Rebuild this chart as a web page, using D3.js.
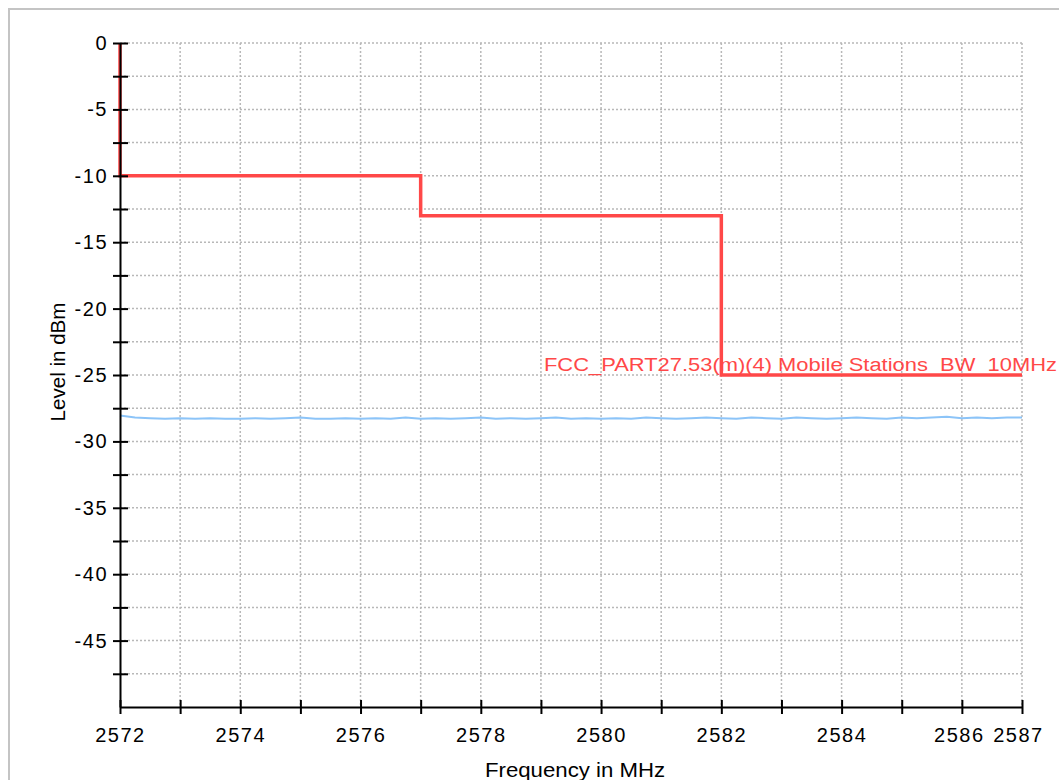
<!DOCTYPE html>
<html lang="en">
  <head>
    <meta charset="UTF-8" />
    <title>Spectrum plot</title>
    <style>
      body {
        margin: 0;
        background: #fff;
        font-family: "Liberation Sans", Arial, sans-serif;
      }
      .frame {
        fill: none;
        stroke: #c4c4c4;
        stroke-width: 2px;
      }
      .grid line {
        stroke: #b8b8b8;
        stroke-width: 1.5px;
        stroke-dasharray: 2 2;
      }
      .axis path,
      .axis line {
        stroke: #000;
        stroke-width: 2px;
      }
      .axis text {
        font-size: 20px;
        fill: #000;
        font-family: "Liberation Sans", Arial, sans-serif;
      }
      .title {
        font-size: 20px;
        fill: #000;
      }
    </style>
  </head>
  <body>
    <div id="chart"></div>
    <script src="https://d3js.org/d3.v7.min.js"></script>
    <script>
      // limit line (step corners)
      const limitFreq = [2572, 2572, 2577, 2577, 2582, 2582, 2587];
      const limitLevel = [0, -10, -10, -13, -13, -25, -25];
      const limitName = "FCC_PART27.53(m)(4) Mobile Stations_BW_10MHz";

      // measured trace, every 0.25 MHz
      const traceFreq = [
        2572, 2572.25, 2572.5, 2572.75, 2573, 2573.25, 2573.5, 2573.75,
        2574, 2574.25, 2574.5, 2574.75, 2575, 2575.25, 2575.5, 2575.75,
        2576, 2576.25, 2576.5, 2576.75, 2577, 2577.25, 2577.5, 2577.75,
        2578, 2578.25, 2578.5, 2578.75, 2579, 2579.25, 2579.5, 2579.75,
        2580, 2580.25, 2580.5, 2580.75, 2581, 2581.25, 2581.5, 2581.75,
        2582, 2582.25, 2582.5, 2582.75, 2583, 2583.25, 2583.5, 2583.75,
        2584, 2584.25, 2584.5, 2584.75, 2585, 2585.25, 2585.5, 2585.75,
        2586, 2586.25, 2586.5, 2586.75, 2587
      ];
      const traceLevel = [
        -28.05, -28.2, -28.25, -28.3, -28.25, -28.3, -28.25, -28.3,
        -28.3, -28.25, -28.3, -28.25, -28.2, -28.3, -28.3, -28.25,
        -28.3, -28.25, -28.3, -28.2, -28.3, -28.25, -28.3, -28.25,
        -28.2, -28.3, -28.25, -28.3, -28.25, -28.2, -28.3, -28.25,
        -28.3, -28.25, -28.3, -28.2, -28.25, -28.3, -28.25, -28.2,
        -28.25, -28.3, -28.2, -28.25, -28.3, -28.2, -28.25, -28.3,
        -28.25, -28.2, -28.25, -28.3, -28.2, -28.25, -28.2, -28.15,
        -28.25, -28.2, -28.25, -28.2, -28.2
      ];

      const xTickLabels = [2572, 2574, 2576, 2578, 2580, 2582, 2584, 2586, 2587];
      const yTickLabels = [0, -5, -10, -15, -20, -25, -30, -35, -40, -45];

      const W = 1059, H = 780;
      const margin = { top: 43, right: 37, bottom: 73, left: 120 };
      const width = W - margin.left - margin.right,
        height = H - margin.top - margin.bottom;

      const svg = d3
        .select("#chart")
        .append("svg")
        .attr("width", W)
        .attr("height", H);

      // outer frame
      svg
        .append("rect")
        .attr("class", "frame")
        .attr("x", 9)
        .attr("y", 9)
        .attr("width", W + 10)
        .attr("height", H + 10);

      const g = svg
        .append("g")
        .attr("transform", "translate(" + margin.left + "," + margin.top + ")");

      const x = d3.scaleLinear().domain([2572, 2587]).range([0, width]);
      const y = d3.scaleLinear().domain([-50, 0]).range([height, 0]);

      const xMinor = d3.range(2572, 2588, 1);
      const yMinor = d3.range(0, -50, -2.5);

      // grid
      g.append("g")
        .attr("class", "grid")
        .selectAll("line")
        .data(xMinor.slice(1))
        .join("line")
        .attr("x1", (d) => x(d))
        .attr("x2", (d) => x(d))
        .attr("y1", 0)
        .attr("y2", height);

      g.append("g")
        .attr("class", "grid")
        .selectAll("line")
        .data(yMinor)
        .join("line")
        .attr("x1", 0)
        .attr("x2", width)
        .attr("y1", (d) => y(d))
        .attr("y2", (d) => y(d));

      // measured trace
      const trace = traceFreq.map((f, i) => [f, traceLevel[i]]);
      g.append("path")
        .datum(trace)
        .attr("fill", "none")
        .attr("stroke", "#8cc4f8")
        .attr("stroke-width", 2)
        .attr("d", d3.line().x((d) => x(d[0])).y((d) => y(d[1])));

      // limit line
      const limit = limitFreq.map((f, i) => [f, limitLevel[i]]);
      g.append("path")
        .datum(limit)
        .attr("fill", "none")
        .attr("stroke", "#ff4848")
        .attr("stroke-width", 3.5)
        .attr("d", d3.line().x((d) => x(d[0])).y((d) => y(d[1])));

      g.append("text")
        .attr("x", x(2579.05))
        .attr("y", y(-25) - 4)
        .attr("fill", "#ff4848")
        .attr("font-size", 18)
        .attr("textLength", 513)
        .attr("lengthAdjust", "spacingAndGlyphs")
        .text(limitName);

      // axes
      const xAxis = d3
        .axisBottom(x)
        .tickValues(xMinor)
        .tickFormat((d) => (xTickLabels.includes(d) ? d : ""))
        .tickSize(7)
        .tickSizeOuter(0)
        .tickPadding(14);
      const gx = g
        .append("g")
        .attr("class", "axis")
        .attr("transform", "translate(0," + height + ")")
        .call(xAxis);
      gx.selectAll(".tick line").attr("y1", -7);
      gx.selectAll(".tick text")
        .attr("letter-spacing", 1.5)
        .attr("dx", (d) => (d === 2587 ? -4 : d === 2586 ? -3 : 0));

      const yAxis = d3
        .axisLeft(y)
        .tickValues(yMinor)
        .tickFormat((d) => (yTickLabels.includes(d) ? d : ""))
        .tickSize(7)
        .tickSizeOuter(0)
        .tickPadding(5);
      const gy = g.append("g").attr("class", "axis").call(yAxis);
      gy.selectAll(".tick line").attr("x1", 8);
      gy.selectAll(".tick text").attr("letter-spacing", 1.5);

      // titles
      svg
        .append("text")
        .attr("class", "title")
        .attr("transform", "translate(65,362) rotate(-90)")
        .attr("text-anchor", "middle")
        .attr("textLength", 119)
        .attr("lengthAdjust", "spacingAndGlyphs")
        .text("Level in dBm");

      svg
        .append("text")
        .attr("class", "title")
        .attr("x", 575)
        .attr("y", 777)
        .attr("text-anchor", "middle")
        .attr("textLength", 180)
        .attr("lengthAdjust", "spacingAndGlyphs")
        .text("Frequency in MHz");
    </script>
  </body>
</html>
